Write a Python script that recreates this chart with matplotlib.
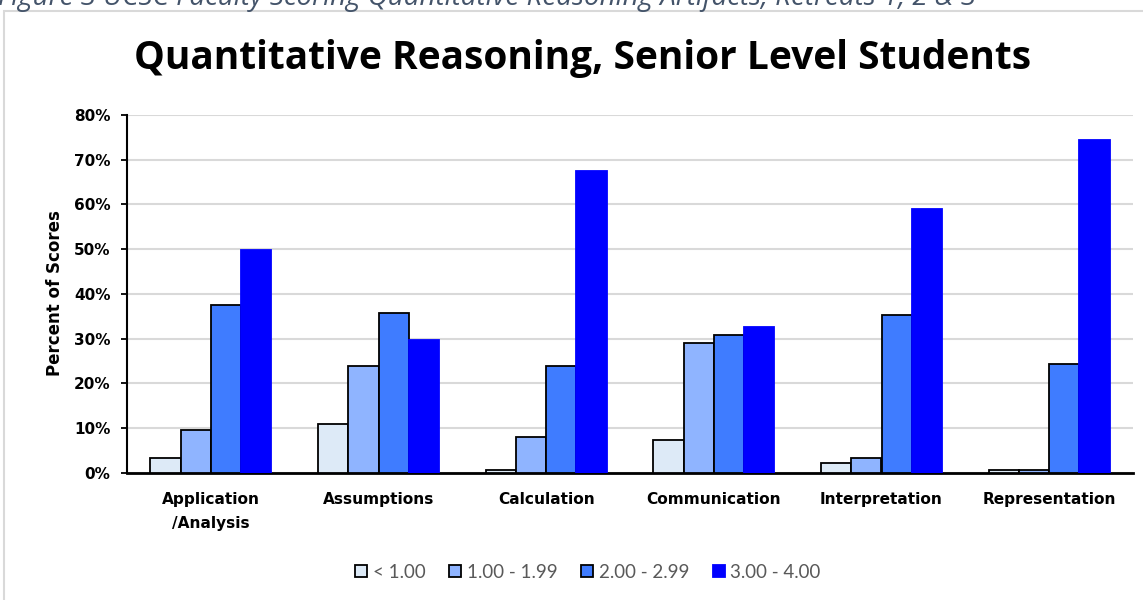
import matplotlib
matplotlib.use("Agg")
import matplotlib.pyplot as plt
import numpy as np
from matplotlib.patches import Rectangle, Patch
from matplotlib.ticker import PercentFormatter

# scores by criterion, share of ratings in each band (percent)
criteria = ["Application\n/Analysis", "Assumptions", "Calculation",
            "Communication", "Interpretation", "Representation"]
bands = ["< 1.00", "1.00 - 1.99", "2.00 - 2.99", "3.00 - 4.00"]
below_1 = [3.2, 10.8, 0.5, 7.3, 2.2, 0.7]
from_1 = [9.5, 23.8, 7.9, 29.0, 3.2, 0.7]
from_2 = [37.4, 35.7, 23.8, 30.7, 35.2, 24.3]
from_3 = [49.7, 29.6, 67.5, 32.5, 59.0, 74.3]
band_colors = ["#DDEAF7", "#8FB4FF", "#3F7CFF", "#0000FF"]

W, H = 1143, 600
fig = plt.figure(figsize=(W / 100, H / 100), dpi=100)
fig.patch.set_facecolor("white")

# caption sitting above the chart frame (clipped by page top)
fig.text(-0.002, 1.0 - 4.5 / H, "Figure 3 UCSC Faculty Scoring Quantitative Reasoning Artifacts, Retreats 1, 2 & 3",
         family="Open Sans", style="italic", fontsize=20, color="#44546A",
         ha="left", va="baseline")

# chart frame
fig.add_artist(Rectangle((4 / W, -0.01), 1.05, 1 - 11 / H + 0.01, transform=fig.transFigure,
                         facecolor="white", edgecolor="#D9D9D9", linewidth=1.5, zorder=-10))

ax = fig.add_axes([127 / W, (H - 472.7) / H, (1133 - 127) / W, (472.7 - 115) / H])
ax.set_facecolor("none")

x = np.arange(len(criteria))
w = 0.18
series = [below_1, from_1, from_2, from_3]
for i, (vals, col) in enumerate(zip(series, band_colors)):
    edge = "black" if i < 3 else "#0000FF"
    ax.bar(x + (i - 1.5) * w, vals, width=w, color=col, edgecolor=edge,
           linewidth=1.3, zorder=3)

ax.set_xlim(-0.5, len(criteria) - 0.5)
ax.set_ylim(0, 80)
ax.set_yticks(np.arange(0, 81, 10))
ax.yaxis.set_major_formatter(PercentFormatter(decimals=0))
ax.yaxis.grid(True, color="#D9D9D9", linewidth=1.5, zorder=0)
ax.set_axisbelow(True)

ax.set_xticks(x)
ax.set_xticklabels(criteria, family="DejaVu Sans", fontweight="bold", fontsize=11.1,
                   linespacing=1.7)
ax.tick_params(axis="x", length=0, pad=14)
ax.tick_params(axis="y", length=4, width=1.3, pad=8)
for lbl in ax.get_yticklabels():
    lbl.set_family("DejaVu Sans")
    lbl.set_fontweight("bold")
    lbl.set_fontsize(11)

for side in ("top", "right"):
    ax.spines[side].set_visible(False)
ax.spines["left"].set_linewidth(1.5)
ax.spines["bottom"].set_linewidth(2)

fig.text(55 / W, (H - 293) / H, "Percent of Scores", rotation=90, family="DejaVu Sans",
         fontweight="bold", fontsize=12, ha="center", va="center")

fig.text(583 / W, (H - 58) / H, "Quantitative Reasoning, Senior Level Students",
         family="Open Sans", fontweight="bold", fontsize=28, ha="center", va="center")

handles = [Patch(facecolor=c, edgecolor=("black" if i < 3 else c), linewidth=1.3)
           for i, c in enumerate(band_colors)]
leg = fig.legend(handles, bands, loc="center", bbox_to_anchor=(588 / W, (H - 572) / H),
                 ncol=4, frameon=False, handlelength=0.65, handleheight=0.65,
                 handletextpad=0.3, columnspacing=1.25,
                 prop={"family": "Lato", "size": 13.5})
for t in leg.get_texts():
    t.set_color("#595959")

fig.savefig("out.png", dpi=100)
